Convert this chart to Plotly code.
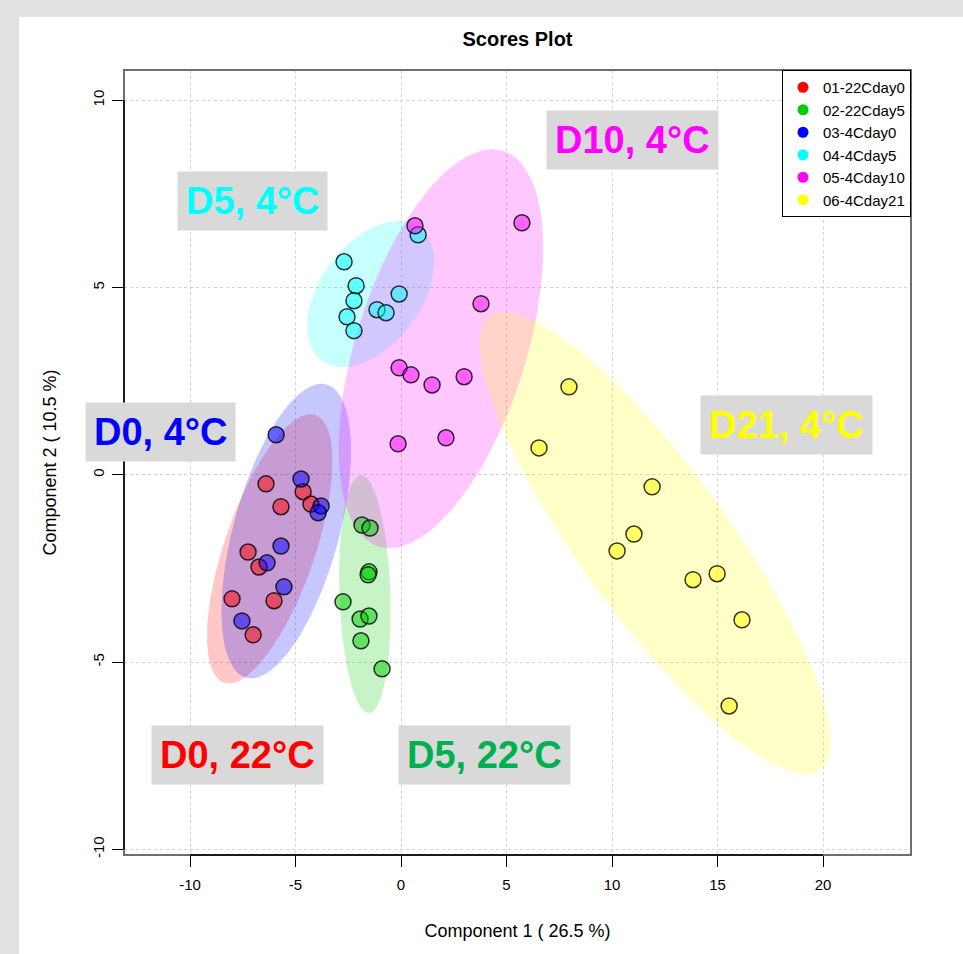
import numpy as np
import plotly.graph_objects as go

# ---------------- data ----------------
groups = ["01-22Cday0", "02-22Cday5", "03-4Cday0", "04-4Cday5", "05-4Cday10", "06-4Cday21"]
group_colors = ["#FF0000", "#00CD00", "#0000FF", "#00FFFF", "#FF00FF", "#FFFF00"]

x_22Cday0 = [-6.40, -4.64, -4.27, -5.69, -7.25, -6.73, -8.01, -6.02, -7.01]
y_22Cday0 = [-0.24, -0.45, -0.78, -0.85, -2.06, -2.46, -3.31, -3.36, -4.27]

x_22Cday5 = [-1.85, -1.47, -1.52, -1.56, -2.75, -1.94, -1.52, -1.90, -0.90]
y_22Cday5 = [-1.34, -1.42, -2.59, -2.67, -3.39, -3.85, -3.77, -4.43, -5.18]

x_4Cday0 = [-5.92, -4.74, -3.79, -3.93, -5.69, -6.35, -5.55, -7.54]
y_4Cday0 = [1.07, -0.11, -0.83, -1.01, -1.90, -2.35, -2.99, -3.90]

x_4Cday5 = [-2.70, -2.13, -2.23, -2.56, -2.23, -1.14, -0.71, -0.09, 0.81]
y_4Cday5 = [5.69, 5.05, 4.65, 4.22, 3.85, 4.41, 4.33, 4.83, 6.41]

x_4Cday10 = [0.66, 5.73, 3.79, -0.09, 0.47, 1.47, 2.99, -0.14, 2.13]
y_4Cday10 = [6.65, 6.73, 4.57, 2.86, 2.67, 2.40, 2.62, 0.83, 0.99]

x_4Cday21 = [7.96, 6.54, 11.90, 11.04, 10.24, 13.84, 14.98, 16.16, 15.55]
y_4Cday21 = [2.35, 0.72, -0.32, -1.58, -2.03, -2.80, -2.64, -3.87, -6.17]

group_x = [x_22Cday0, x_22Cday5, x_4Cday0, x_4Cday5, x_4Cday10, x_4Cday21]
group_y = [y_22Cday0, y_22Cday5, y_4Cday0, y_4Cday5, y_4Cday10, y_4Cday21]

label_texts = ["D10, 4°C", "D5, 4°C", "D0, 4°C", "D21, 4°C", "D0, 22°C", "D5, 22°C"]
label_colors = ["#FF00FF", "#00FFFF", "#0000FF", "#FFFF00", "#FF0000", "#00B050"]
label_x = [10.95, -7.06, -11.42, 18.25, -7.75, 3.96]
label_y = [8.95, 7.32, 1.15, 1.34, -7.49, -7.49]

x_tickvals = [-10, -5, 0, 5, 10, 15, 20]
x_ticktext = ["-10", "-5", "0", "5", "10", "15", "20"]
y_tickvals = [-10, -5, 0, 5, 10]
y_ticktext = ["-10", "-5", "0", "5", "10"]

x_range = [-13.13, 24.17]
y_range = [-10.15, 10.81]


def rgba(hexc, a):
    h = hexc.lstrip("#")
    r, g, b = int(h[0:2], 16), int(h[2:4], 16), int(h[4:6], 16)
    return f"rgba({r},{g},{b},{a})"


def conf_ellipse(xs, ys, level=0.95, n=240):
    pts = np.column_stack([xs, ys])
    c = pts.mean(axis=0)
    cov = np.cov(pts, rowvar=False)
    vals, vecs = np.linalg.eigh(cov)
    t = np.sqrt(-2.0 * np.log(1.0 - level))  # chi-square quantile, 2 dof
    th = np.linspace(0, 2 * np.pi, n)
    circ = np.vstack([np.cos(th), np.sin(th)])
    e = vecs @ (np.sqrt(vals)[:, None] * circ) * t
    return c[0] + e[0], c[1] + e[1]


fig = go.Figure()

# ellipses
for name, col, xs, ys in zip(groups, group_colors, group_x, group_y):
    ex, ey = conf_ellipse(xs, ys)
    fig.add_trace(go.Scatter(x=ex, y=ey, mode="lines", fill="toself",
                             fillcolor=rgba(col, 0.22), line=dict(width=0),
                             hoverinfo="skip", showlegend=False))

# points
for name, col, xs, ys in zip(groups, group_colors, group_x, group_y):
    fig.add_trace(go.Scatter(x=xs, y=ys, mode="markers", name=name,
                             marker=dict(size=16, color=rgba(col, 0.5),
                                         line=dict(color="rgba(0,0,0,0.8)", width=1.5)),
                             hoverinfo="skip", showlegend=False))

# legend entries (solid dots)
for name, col in zip(groups, group_colors):
    fig.add_trace(go.Scatter(x=[None], y=[None], mode="markers", name=name,
                             marker=dict(size=11, color=col), showlegend=True))

annotations = []
for txt, col, lx, ly in zip(label_texts, label_colors, label_x, label_y):
    annotations.append(dict(x=lx, y=ly, xref="x", yref="y", text=f"<b>{txt}</b>",
                            showarrow=False, bgcolor="#D9D9D9", borderpad=8,
                            font=dict(family="Liberation Sans, Arial", size=38, color=col),
                            xanchor="center", yanchor="middle"))

shapes = [
    # white page panel over grey background
    dict(type="rect", xref="paper", yref="paper", x0=-0.1334, x1=1.07, y0=-0.13, y1=1.0675,
         fillcolor="white", line=dict(width=0), layer="below"),
    # plot frame
    dict(type="rect", xref="paper", yref="paper", x0=0, x1=1, y0=0, y1=1,
         line=dict(color="#6E6E6E", width=2), fillcolor="rgba(0,0,0,0)", layer="above"),
    # axis lines over tick range
    dict(type="line", xref="x", yref="paper", x0=x_tickvals[0], x1=x_tickvals[-1], y0=0, y1=0,
         line=dict(color="black", width=1.5), layer="above"),
    dict(type="line", xref="paper", yref="y", x0=0, x1=0, y0=y_tickvals[0], y1=y_tickvals[-1],
         line=dict(color="black", width=1.5), layer="above"),
]

fig.update_layout(
    width=963, height=954,
    margin=dict(l=124, r=52, t=70, b=99),
    paper_bgcolor="#E1E1E1",
    plot_bgcolor="white",
    font=dict(family="Liberation Sans, Arial", size=15, color="black"),
    title=dict(text="<b>Scores Plot</b>", x=0.5, xref="paper", xanchor="center",
               y=1 - 39 / 954, yanchor="middle",
               font=dict(size=20, family="Liberation Sans, Arial", color="black")),
    xaxis=dict(range=x_range, tickvals=x_tickvals, ticktext=x_ticktext,
               showgrid=True, gridcolor="#D3D3D3", griddash="dot", gridwidth=1,
               zeroline=False, showline=False, ticks="outside", ticklen=11,
               tickcolor="black", tickwidth=1.2, tickfont=dict(size=15),
               ticklabelstandoff=5,
               title=dict(text="Component 1 ( 26.5 %)", font=dict(size=18), standoff=32)),
    yaxis=dict(range=y_range, tickvals=y_tickvals, ticktext=y_ticktext,
               showgrid=True, gridcolor="#D3D3D3", griddash="dot", gridwidth=1,
               zeroline=False, showline=False, ticks="outside", ticklen=11,
               tickcolor="black", tickwidth=1.2, tickangle=-90, tickfont=dict(size=15),
               ticklabelstandoff=2,
               title=dict(text="Component 2 ( 10.5 %)", font=dict(size=18), standoff=28)),
    legend=dict(x=1, y=1, xanchor="right", yanchor="top", bgcolor="white",
                bordercolor="black", borderwidth=1, font=dict(size=15),
                tracegroupgap=0, itemwidth=30),
    annotations=annotations,
    shapes=shapes,
    hovermode=False,
)

fig.write_html("out.html")
